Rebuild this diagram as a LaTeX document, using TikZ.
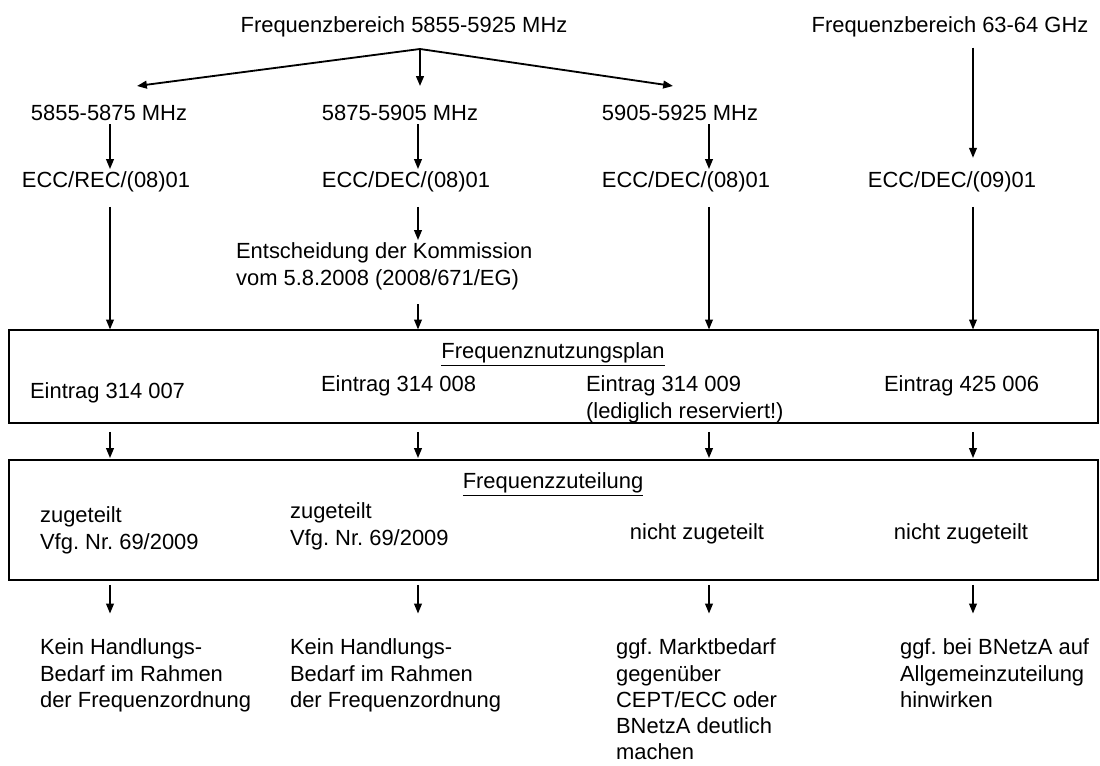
\documentclass[tikz,border=0pt]{standalone}
\usepackage{fontspec}
\setmainfont{Liberation Sans}
\usetikzlibrary{arrows.meta,fit}
\frenchspacing

\begin{document}
\begin{tikzpicture}[x=0.025cm,y=-0.025cm,
  lbl/.style={inner sep=2pt, font=\fontsize{15.6}{18.6}\selectfont},
  txt/.style={lbl, align=left, anchor=north west},
  box/.style={draw, line width=0.8pt, inner sep=0pt},
  arr/.style={-{Triangle[length=7pt,width=5.5pt]}, line width=1pt}]
   \useasboundingbox (0,0) rectangle (1100,766);

   % Frequenzbereiche
   \node[lbl, anchor=base] (fb1) at (404,33) {Frequenzbereich 5855-5925 MHz};
   \node[lbl, anchor=base] (fb2) at (950,33) {Frequenzbereich 63-64 GHz};
   \coordinate (split) at (420,49);
   \coordinate (tip1) at (137,86);
   \coordinate (tip2) at (420,86);
   \coordinate (tip3) at (673,86);

   % Spalten
   \coordinate (c1) at (110,0);
   \coordinate (c2) at (418,0);
   \coordinate (c3) at (709,0);
   \coordinate (c4) at (973,0);

   \node[lbl, anchor=base] (b1) at (109,121) {5855-5875 MHz};
   \node[lbl, anchor=base] (b2) at (400,121) {5875-5905 MHz};
   \node[lbl, anchor=base] (b3) at (680,121) {5905-5925 MHz};

   \node[lbl, anchor=base] (e1) at (106,188) {ECC/REC/(08)01};
   \node[lbl, anchor=base] (e2) at (406,188) {ECC/DEC/(08)01};
   \node[lbl, anchor=base] (e3) at (686,188) {ECC/DEC/(08)01};
   \node[lbl, anchor=base] (e4) at (952,188) {ECC/DEC/(09)01};

   \node[txt] (ent) at (233,240) {Entscheidung der Kommission\\vom 5.8.2008 (2008/671/EG)};

   % Frequenznutzungsplan
   \node[box, fit={(9,330) (1098,423)}] (fnp) {};
   \node[lbl, anchor=base] (fnpt) at (553,359) {\underline{Frequenznutzungsplan}};
   \node[txt] (n1) at (27,380) {Eintrag 314 007};
   \node[txt] (n2) at (318,373) {Eintrag 314 008};
   \node[txt] (n3) at (583,373) {Eintrag 314 009\\(lediglich reserviert!)};
   \node[txt] (n4) at (881,373) {Eintrag 425 006};

   % Frequenzzuteilung
   \node[box, fit={(9,460) (1098,580)}] (fzt) {};
   \node[lbl, anchor=base] (fztt) at (553,489) {\underline{Frequenzzuteilung}};
   \node[txt] (z1) at (37,504) {zugeteilt\\Vfg. Nr. 69/2009};
   \node[txt] (z2) at (287,500) {zugeteilt\\Vfg. Nr. 69/2009};
   \node[lbl, anchor=base] (z3) at (697,540) {nicht zugeteilt};
   \node[lbl, anchor=base] (z4) at (961,540) {nicht zugeteilt};

   % Handlungsbedarf
   \node[txt] (h1) at (37,636) {Kein Handlungs-\\Bedarf im Rahmen\\der Frequenzordnung};
   \node[txt] (h2) at (287,636) {Kein Handlungs-\\Bedarf im Rahmen\\der Frequenzordnung};
   \node[txt] (h3) at (613,636) {ggf. Marktbedarf\\gegenüber\\CEPT/ECC oder\\BNetzA deutlich\\machen};
   \node[txt] (h4) at (897,636) {ggf. bei BNetzA auf\\Allgemeinzuteilung\\hinwirken};

   \draw[arr, line width=1.3pt] (split) -- (tip1);
   \draw[arr, line width=1.3pt] (split) -- (tip2);
   \draw[arr, line width=1.3pt] (split) -- (tip3);

   \draw[arr] (c1 |- b1.south) -- (c1 |- e1.north);
   \draw[arr] (c2 |- b2.south) -- (c2 |- e2.north);
   \draw[arr] (c3 |- b3.south) -- (c3 |- e3.north);
   \draw[arr, shorten <=5pt, shorten >=8pt] (c4 |- fb2.south) -- (c4 |- e4.north);

   \draw[arr, shorten <=8pt] (c1 |- e1.south) -- (c1 |- fnp.north);
   \draw[arr, shorten <=8pt] (c2 |- e2.south) -- (c2 |- ent.north);
   \draw[arr, shorten <=8pt] (c2 |- ent.south) -- (c2 |- fnp.north);
   \draw[arr, shorten <=8pt] (c3 |- e3.south) -- (c3 |- fnp.north);
   \draw[arr, shorten <=8pt] (c4 |- e4.south) -- (c4 |- fnp.north);

   \foreach \c in {c1,c2,c3,c4}
     \draw[arr, shorten <=6pt, shorten >=1pt] (\c |- fnp.south) -- (\c |- fzt.north);
   \foreach \c/\h in {c1/h1,c2/h2,c3/h3,c4/h4}
     \draw[arr, shorten <=3pt, shorten >=16pt] (\c |- fzt.south) -- (\c |- \h.north);
\end{tikzpicture}
\end{document}
